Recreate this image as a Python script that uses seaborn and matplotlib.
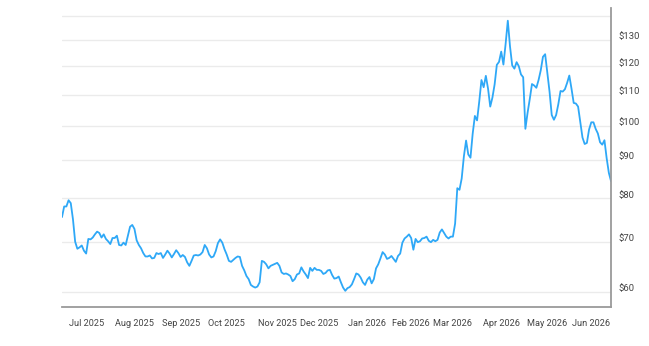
import pandas as pd
import matplotlib.pyplot as plt
import matplotlib.transforms as mtransforms
from matplotlib.ticker import NullLocator, FixedLocator
import seaborn as sns

# daily closes, one per trading day from mid June 2025 to mid June 2026
start_date = "2025-06-16"
holidays = ["2025-07-04", "2025-09-01", "2025-11-27", "2025-12-25", "2026-01-01",
            "2026-01-19", "2026-02-16", "2026-04-03", "2026-05-25"]
prices = [
    75.5, 78.0, 78.0, 79.5, 78.8, 75.0, 70.0, 68.5, 68.8, 69.2,
    68.1, 67.5, 70.6, 70.5, 70.9, 71.6, 72.2, 71.9, 70.9, 71.6,
    70.6, 70.1, 69.5, 70.8, 70.8, 71.3, 69.3, 69.2, 69.8, 69.3,
    71.3, 73.3, 73.7, 72.8, 70.3, 69.3, 68.6, 67.6, 66.9, 66.9,
    67.1, 66.5, 66.6, 67.6, 67.4, 67.6, 66.6, 67.3, 68.1, 67.5,
    66.7, 67.4, 68.2, 67.6, 66.8, 67.2, 66.8, 65.7, 65.0, 66.0,
    67.1, 67.2, 67.1, 67.3, 67.8, 69.3, 68.6, 67.3, 66.7, 66.9,
    68.0, 69.7, 70.5, 69.8, 68.4, 67.3, 66.0, 65.8, 66.2, 66.6,
    66.9, 66.8, 65.0, 64.1, 63.0, 62.4, 61.3, 61.0, 60.8, 61.0,
    61.8, 66.0, 65.8, 65.3, 64.5, 65.0, 65.2, 65.4, 65.6, 65.0,
    63.7, 63.4, 63.5, 63.3, 63.0, 62.0, 62.4, 63.3, 63.5, 64.7,
    63.9, 63.3, 62.6, 64.6, 64.0, 64.6, 64.2, 64.2, 64.0, 63.4,
    63.6, 64.1, 64.2, 63.2, 62.5, 62.6, 62.9, 61.8, 60.8, 60.2,
    60.7, 60.9, 61.4, 62.4, 63.5, 63.3, 62.7, 61.8, 61.3, 62.3,
    62.8, 61.6, 62.4, 64.5, 65.3, 66.5, 67.8, 67.3, 66.4, 66.6,
    67.0, 66.4, 65.8, 67.0, 67.5, 69.8, 70.7, 71.1, 71.6, 70.8,
    68.3, 70.6, 69.9, 70.1, 70.7, 70.8, 71.1, 70.2, 69.9, 70.4,
    70.1, 70.4, 72.0, 72.7, 71.9, 71.1, 70.7, 71.1, 71.1, 74.0,
    82.5, 82.1, 85.0, 91.0, 95.5, 91.5, 90.6, 97.5, 103.0, 101.6,
    107.7, 115.0, 112.5, 116.5, 112.0, 106.0, 109.0, 113.5, 120.5, 121.6,
    125.5, 120.6, 128.5, 138.0, 127.5, 120.3, 119.1, 121.5, 120.0, 117.0,
    116.0, 99.0, 104.0, 108.5, 113.6, 113.1, 112.3, 115.0, 118.5, 123.5,
    124.5, 117.5, 111.0, 103.3, 101.8, 103.3, 106.8, 111.2, 111.0, 111.8,
    114.0, 116.6, 112.0, 107.2, 107.0, 106.0, 101.0, 96.4, 94.5, 94.8,
    98.8, 101.0, 101.0, 99.0, 97.6, 95.0, 94.3, 95.6, 90.5, 86.5, 84.3,
]
y_ticks = [60, 70, 80, 90, 100, 110, 120, 130, 140]
y_labels = ["$60", "$70", "$80", "$90", "$100", "$110", "$120", "$130", ""]

dates = pd.bdate_range(start=start_date, periods=len(prices), freq="C", holidays=holidays)
df = pd.DataFrame({"date": dates, "price": prices})
df["idx"] = range(len(df))

# first trading day of each month (skip the partial first month)
month_start = df.groupby(df["date"].dt.to_period("M"))["idx"].min().iloc[1:]
month_labels = [df.loc[i, "date"].strftime("%b %Y") for i in month_start]

sns.set_style("white")
plt.rcParams["font.family"] = ["Roboto", "DejaVu Sans"]

fig = plt.figure(figsize=(6.49, 3.46), dpi=100)
ax = fig.add_axes([0.0955, 0.113, 0.846, 0.864])

sns.lineplot(x="idx", y="price", data=df, ax=ax, color="#2ea8f7", linewidth=1.3)

ax.set_yscale("log")
ax.set_ylim(57.3, 143.5)
ax.set_xlim(0, len(df) - 1)
ax.yaxis.set_major_locator(FixedLocator(y_ticks))
ax.yaxis.set_minor_locator(NullLocator())
ax.set_yticklabels(y_labels)
ax.yaxis.tick_right()
ax.grid(axis="y", color="#ebebeb", linewidth=1)
ax.set_axisbelow(True)

ax.set_xticks(list(month_start))
ax.set_xticklabels(month_labels)

ax.set_xlabel("")
ax.set_ylabel("")
for s in ["left", "top"]:
    ax.spines[s].set_visible(False)
for s in ["bottom", "right"]:
    ax.spines[s].set_color("#9a9a9a")
    ax.spines[s].set_linewidth(1.3)

ax.tick_params(axis="x", length=4, width=1, color="#9a9a9a", labelsize=6.6, labelcolor="#444444", pad=4.5)
ax.tick_params(axis="y", length=0, labelsize=6.8, labelcolor="#444444", pad=5.5)

offset = mtransforms.ScaledTranslation(0, 4 / 100, fig.dpi_scale_trans)
for lab in ax.get_yticklabels():
    lab.set_transform(lab.get_transform() + offset)

plt.savefig("out.png", dpi=100)
